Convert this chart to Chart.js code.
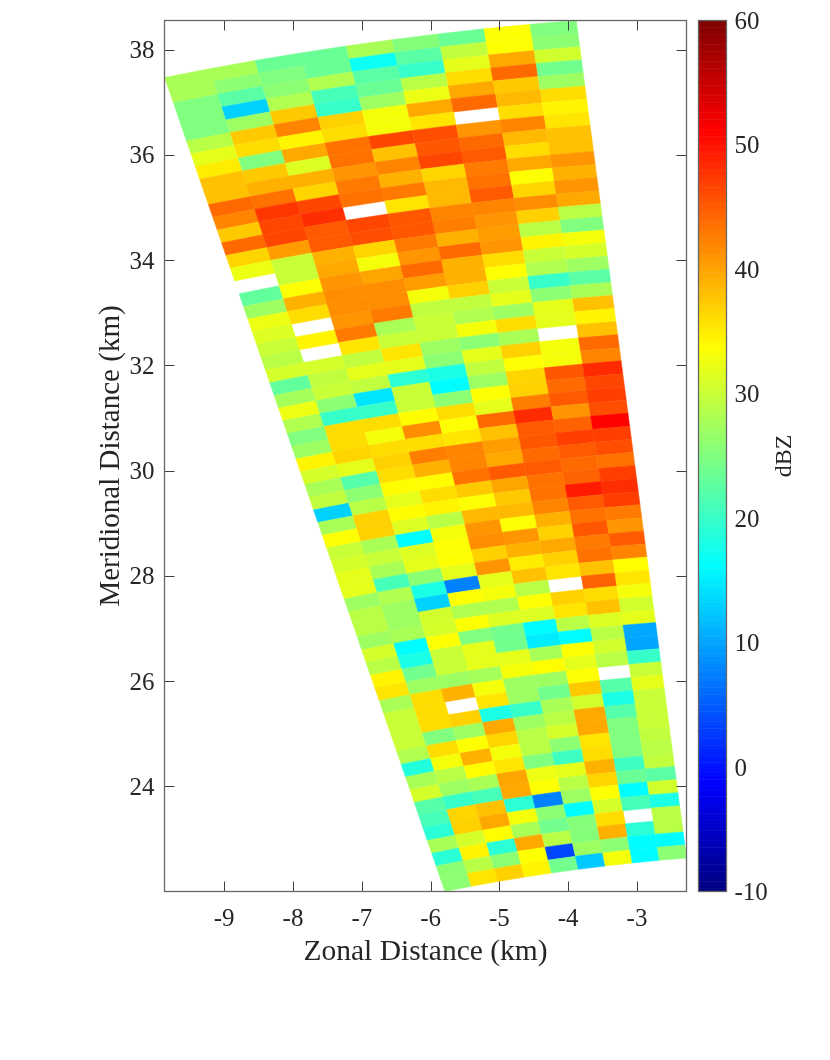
<!DOCTYPE html>
<html>
<head>
<meta charset="utf-8">
<title>Radar reflectivity</title>
<script src="https://cdn.jsdelivr.net/npm/chart.js@4"></script>
<style>
  html, body { margin: 0; padding: 0; background: #fff; }
  #wrap { position: relative; width: 830px; height: 1060px; }
  canvas { position: absolute; left: 0; top: 0; }
</style>
</head>
<body>
<div id="wrap">
  <canvas id="main" width="830" height="1060"></canvas>
  <canvas id="bar" width="830" height="1060"></canvas>
</div>
<script>
// reflectivity per beam (dBZ), far gate first, null = no echo
const beam1 = [28,28,25,25,25,29,32,35,38,38,44,42,37.5,44,36.5,32.5,null,23,27,32.5,31.5,30,29,31,23,27.5,32.5,28.5,25,27,34.5,31,28,29.5,13,28,33.5,30,31,32,32,27,29,29,27,31,29,34.5,35.5,28,30,30,30,28.5,18.5,28,31,22,21,19,28,19,26,26];
const beam2 = [28,26,22.5,13,27,37.5,36,25,37.5,39,43.5,47.5,46.5,46.5,40.5,30,30,33.5,39,36,null,34.5,null,31,29.5,30,26,20,36,36,36.5,32,22,26,29,37,37,28,30,28,21,28.5,27,27,28,16,18,24,27,36,36,36,25,36,33,29,27,20,36.5,37,31,34.5,29,35.5];
const beam3 = [23.5,25,26,28.5,37.5,42,34.5,39.5,31.5,39,36.5,46.5,48,45,45,39,39.5,41,41.5,41.5,41,43,35.5,29.5,32,29.5,14.5,20,36,33,36,37,36,34,32,34,31.5,16,31.5,32,26,18,13,30.5,31,33.5,30,30,27,39,null,37,27,33.5,39,34,28,21,38,39.5,34,19,26,37];
const beam4 = [23.5,23.5,28.5,21,20,37,36,43.5,43.5,41,43,43.5,null,46.5,46,36.5,33,40,41.5,41.5,43,28,30,35.5,32,19,30,30,34,41.5,36,42.5,39,34,36,34.5,29,33,33.5,33.5,32,7.5,33.5,28.5,33.5,25,32,32,27.5,33,35.5,18,39.5,36.5,33,35.5,40,39.5,19,33,28,39.5,33.5,34.5];
const beam5 = [28,17,22.5,23.5,27,33,33,46.5,38,42,39,43,35.5,45.5,45.5,43,41,44,40.5,33,29.5,30,30,27,26,18,16,26,36,33.5,35.5,42,42,43.5,37.5,33.5,38.5,41,41.5,37,41,32,33,28.5,31.5,24,24,32,33,27,27,20,27,29,29,25,32.5,33.5,7.5,26,24,29,3.5,24];
const beam6 = [25.5,22.5,20,29,32.5,39.5,35.5,46,45.5,46.5,36.5,38.5,38.5,42,42.5,39,44,39,39,37,29.5,28.5,33,26,32,29.5,27,33.5,32,44,38,40.5,39.5,45,40,37.5,38.5,33.5,41,39,35,38,29,33.5,31.5,16,15,28,34,27,24,28,29,31,26,20.5,32,29,27,16,25.5,25.5,27,12.5];
const beam7 = [23.5,29.5,32,36,39.5,44,null,41,44,45,43,43.5,45,42,41,40.5,41,36,33.5,30,32,27,36,28,37,33.5,36.5,37,42.5,48.5,45,45.5,44,45,43.5,43.5,42,39,37,39.5,37,35.5,null,37,35.5,29,16,33.5,32,33.5,37.5,30.5,39.5,39.5,35.5,36,39,36.5,33.5,31,36,39,26,33];
const beam8 = [33.5,33.5,39.5,44,37.5,38.5,36,42,38.5,36,39.5,33.5,36.5,41.5,37,29,34.5,30,28.5,20,26,32,32,null,33,33,45.5,44,45,41,44.5,47,45,44,44.5,49.5,45,43.5,45.5,43,43.5,38,44.5,36,38,31.5,29,30.5,29,null,22,18,22,25,25,25,20.5,23.5,16,21,null,19,16,16];
const beam9 = [25,26,30.5,24,27,36,34.5,35.5,38,38,41,39,41,39.5,29,25,33,31,27,22.5,28,38,34.5,38,44,42,48.5,46.5,47,46,51,47,46,43.5,47,48,47,43,41,45,42,34,35.5,33,30.5,32,10.5,10,20,30,32,30,30,30,29.5,29,29.5,22.5,30.5,18,29,29,16,26];
const beams = [beam1, beam2, beam3, beam4, beam5, beam6, beam7, beam8, beam9];

// beam edges in degrees from north, radar sits at the origin
const azimuthEdges = [-14.75,-13.75,-12.75,-11.75,-10.75,-9.75,-8.75,-7.75,-6.75,-5.75];
const farRange = 38.75;   // km
const gateSize = 0.25;    // km

const xTicks = [-9,-8,-7,-6,-5,-4,-3];
const yTicks = [24,26,28,30,32,34,36,38];
const cbTicks = [-10,0,10,20,30,40,50,60];

const SERIF = '"Liberation Serif", "Times New Roman", serif';
const INK = '#262626';
const AXIS = '#666666';
const CMIN = -10, CMAX = 60, LEVELS = 256;

function jet(v) {
  let idx = Math.floor((v - CMIN) / (CMAX - CMIN) * LEVELS);
  idx = Math.max(0, Math.min(LEVELS - 1, idx));
  const t = (idx + 0.5) / LEVELS;
  const ch = k => Math.round(255 * Math.max(0, Math.min(1, 1.5 - Math.abs(4 * t - k))));
  return `rgb(${ch(3)},${ch(2)},${ch(1)})`;
}

function polar(r, az) {
  const a = az * Math.PI / 180;
  return { x: r * Math.sin(a), y: r * Math.cos(a) };
}

// keep the plot box where it is set, tick labels may overhang it
function noOverhang(s) {
  s.paddingTop = s.paddingBottom = s.paddingLeft = s.paddingRight = 0;
}

// the serif digits sit a bit high on the tick, push vertical axis labels down
function nudgeLabels(s) {
  if (s.nudged) return;
  s.nudged = true;
  const draw = s.drawLabels;
  s.drawLabels = function (area) {
    this.ctx.save();
    this.ctx.translate(0, 2);
    draw.call(this, area);
    this.ctx.restore();
  };
}

// one dataset per beam, each cell carries its four corners in km
const datasets = beams.map((vals, b) => ({
  label: 'beam ' + (b + 1),
  pointRadius: 0,
  data: vals.map((v, g) => {
    const r1 = farRange - g * gateSize, r2 = r1 - gateSize;
    const a1 = azimuthEdges[b], a2 = azimuthEdges[b + 1];
    return {
      ...polar((r1 + r2) / 2, (a1 + a2) / 2),
      v,
      corners: [polar(r1, a1), polar(r1, a2), polar(r2, a2), polar(r2, a1)]
    };
  })
}));

const cellPlugin = {
  id: 'cells',
  beforeDatasetsDraw(chart) {
    const { ctx, scales: { x, y }, chartArea: a } = chart;
    ctx.save();
    ctx.beginPath();
    ctx.rect(a.left, a.top, a.width, a.height);
    ctx.clip();
    chart.data.datasets.forEach(ds => ds.data.forEach(c => {
      if (c.v === null) return;
      ctx.beginPath();
      c.corners.forEach((p, i) => {
        const px = x.getPixelForValue(p.x), py = y.getPixelForValue(p.y);
        if (i) ctx.lineTo(px, py); else ctx.moveTo(px, py);
      });
      ctx.closePath();
      ctx.fillStyle = ctx.strokeStyle = jet(c.v);
      ctx.lineWidth = 0.5;
      ctx.fill();
      ctx.stroke();
    }));
    ctx.restore();
  },
  afterDatasetsDraw(chart) {
    // box and inward ticks on all four sides
    const { ctx, scales: { x, y }, chartArea: a } = chart;
    const len = 10;
    ctx.save();
    ctx.strokeStyle = '#404040';
    ctx.lineWidth = 1;
    ctx.beginPath();
    xTicks.forEach(t => {
      const px = Math.round(x.getPixelForValue(t)) + 0.5;
      ctx.moveTo(px, a.top); ctx.lineTo(px, a.top + len);
      ctx.moveTo(px, a.bottom); ctx.lineTo(px, a.bottom - len);
    });
    yTicks.forEach(t => {
      const py = Math.round(y.getPixelForValue(t)) + 0.5;
      ctx.moveTo(a.left, py); ctx.lineTo(a.left + len, py);
      ctx.moveTo(a.right, py); ctx.lineTo(a.right - len, py);
    });
    ctx.stroke();
    ctx.strokeStyle = AXIS;
    ctx.lineWidth = 1.3;
    ctx.strokeRect(a.left, a.top, a.width, a.height);
    ctx.restore();
  }
};

new Chart(document.getElementById('main'), {
  type: 'scatter',
  data: { datasets },
  plugins: [cellPlugin],
  options: {
    responsive: false,
    animation: false,
    devicePixelRatio: 1,
    layout: { autoPadding: false, padding: { left: 0, right: 143.5, top: 20.5, bottom: 0 } },
    plugins: { legend: { display: false }, tooltip: { enabled: false } },
    scales: {
      x: {
        type: 'linear', min: -9.868, max: -2.28,
        grid: { display: false, drawTicks: false }, border: { display: false },
        afterBuildTicks: s => { s.ticks = xTicks.map(value => ({ value })); },
        afterFit: s => { noOverhang(s); s.height = 168.5; },
        ticks: { color: INK, font: { family: SERIF, size: 25 }, padding: 13, maxRotation: 0, callback: v => String(v) },
        title: { display: true, text: 'Zonal Distance (km)', color: INK, font: { family: SERIF, size: 29.5 }, padding: { top: 0, bottom: 90 } }
      },
      y: {
        type: 'linear', min: 22, max: 38.555,
        grid: { display: false, drawTicks: false }, border: { display: false },
        afterBuildTicks: s => { s.ticks = yTicks.map(value => ({ value })); },
        afterFit: s => { noOverhang(s); nudgeLabels(s); s.width = 164.5; },
        ticks: { color: INK, font: { family: SERIF, size: 25 }, padding: 10, callback: v => String(v) },
        title: { display: true, text: 'Meridional Distance (km)', color: INK, font: { family: SERIF, size: 29 }, padding: { top: 94, bottom: 0 } }
      }
    }
  }
});

const barPlugin = {
  id: 'colorbar',
  beforeDatasetsDraw(chart) {
    const { ctx, scales: { y }, chartArea: a } = chart;
    const step = (CMAX - CMIN) / LEVELS;
    for (let i = 0; i < LEVELS; i++) {
      const lo = CMIN + i * step;
      const top = y.getPixelForValue(lo + step), bot = y.getPixelForValue(lo);
      ctx.fillStyle = jet(lo + step / 2);
      ctx.fillRect(a.left, top, a.width, bot - top + 0.5);
    }
    ctx.strokeStyle = AXIS;
    ctx.lineWidth = 1.3;
    ctx.strokeRect(a.left, a.top, a.width, a.height);
  },
  afterDraw(chart) {
    const { ctx, chartArea: a } = chart;
    ctx.save();
    ctx.translate(785, (a.top + a.bottom) / 2);
    ctx.rotate(-Math.PI / 2);
    ctx.font = '24px ' + SERIF;
    ctx.fillStyle = INK;
    ctx.textAlign = 'center';
    ctx.textBaseline = 'middle';
    ctx.fillText('dBZ', 0, 0);
    ctx.restore();
  }
};

new Chart(document.getElementById('bar'), {
  type: 'scatter',
  data: { datasets: [{ data: [] }] },
  plugins: [barPlugin],
  options: {
    responsive: false,
    animation: false,
    devicePixelRatio: 1,
    layout: { autoPadding: false, padding: { left: 698.5, right: 0, top: 20.5, bottom: 168.5 } },
    plugins: { legend: { display: false }, tooltip: { enabled: false } },
    scales: {
      x: { type: 'linear', display: false },
      y: {
        type: 'linear', position: 'right', min: CMIN, max: CMAX,
        grid: { display: false, drawTicks: false }, border: { display: false },
        afterBuildTicks: s => { s.ticks = cbTicks.map(value => ({ value })); },
        afterFit: s => { noOverhang(s); nudgeLabels(s); s.width = 103.5; },
        ticks: { color: INK, font: { family: SERIF, size: 25 }, padding: 8, callback: v => String(v) }
      }
    }
  }
});
</script>
</body>
</html>
